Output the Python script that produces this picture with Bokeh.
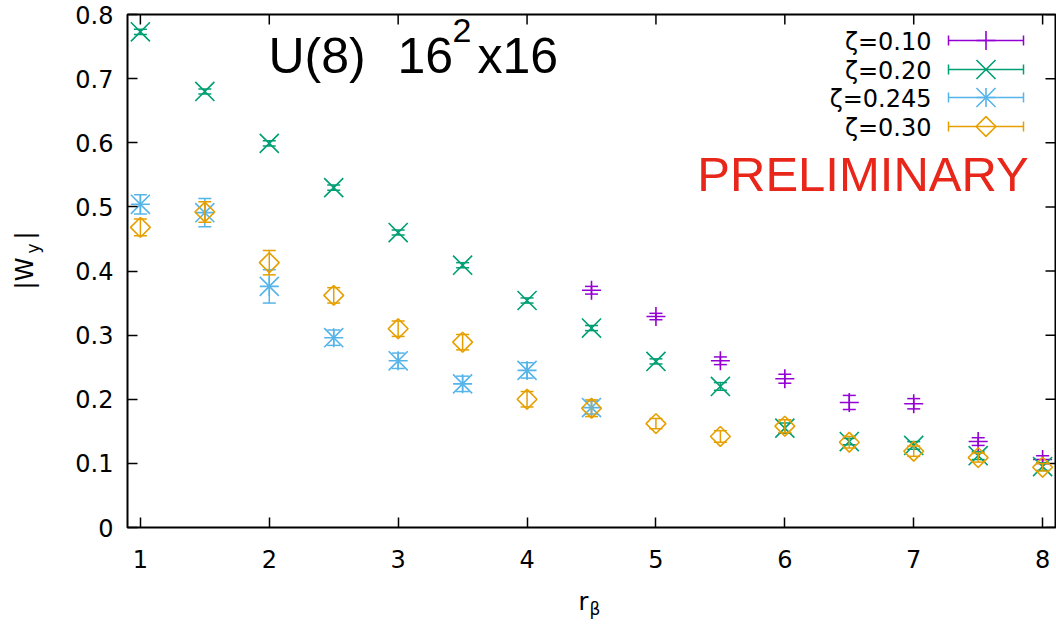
import math
from bokeh.plotting import figure
from bokeh.layouts import row, column
from bokeh.models import Range1d, FixedTicker, Label, ColumnDataSource
from bokeh.embed import file_html
from bokeh.resources import INLINE

# ---------------- data ----------------
r_010 = [4.5, 5.0, 5.5, 6.0, 6.5, 7.0, 7.5, 8.0]
w_010 = [0.370, 0.329, 0.260, 0.232, 0.195, 0.193, 0.134, 0.106]
e_010 = [0.006, 0.005, 0.006, 0.007, 0.011, 0.008, 0.006, 0.006]

r_020 = [1.0, 1.5, 2.0, 2.5, 3.0, 3.5, 4.0, 4.5, 5.0, 5.5, 6.0, 6.5, 7.0, 7.5, 8.0]
w_020 = [0.773, 0.680, 0.599, 0.530, 0.460, 0.409, 0.354, 0.311, 0.259, 0.220,
         0.155, 0.134, 0.128, 0.112, 0.095]
e_020 = [0.004, 0.004, 0.004, 0.004, 0.004, 0.004, 0.004, 0.004, 0.004, 0.006,
         0.008, 0.005, 0.006, 0.006, 0.006]

r_0245 = [1.0, 1.5, 2.0, 2.5, 3.0, 3.5, 4.0, 4.5]
w_0245 = [0.504, 0.491, 0.376, 0.296, 0.260, 0.224, 0.245, 0.187]
e_0245 = [0.015, 0.022, 0.026, 0.012, 0.012, 0.012, 0.012, 0.010]

r_030 = [1.0, 1.5, 2.0, 2.5, 3.0, 3.5, 4.0, 4.5, 5.0, 5.5, 6.0, 6.5, 7.0, 7.5, 8.0]
w_030 = [0.468, 0.492, 0.413, 0.362, 0.310, 0.289, 0.200, 0.186, 0.162, 0.142,
         0.158, 0.133, 0.119, 0.109, 0.094]
e_030 = [0.013, 0.016, 0.019, 0.012, 0.012, 0.012, 0.012, 0.013, 0.008, 0.009,
         0.010, 0.009, 0.008, 0.007, 0.006]

legend_labels = ["ζ=0.10", "ζ=0.20", "ζ=0.245", "ζ=0.30"]
x_ticks = [1, 2, 3, 4, 5, 6, 7, 8]
y_ticks = [0, 0.1, 0.2, 0.3, 0.4, 0.5, 0.6, 0.7, 0.8]
X_MIN, X_MAX = 0.9, 8.1
Y_MIN, Y_MAX = 0.0, 0.8

# ---------------- style / layout constants ----------------
TICK_FONT = "DejaVu Sans"
TICK_SIZE = "24px"
TITLE_FONT = "Liberation Sans"
colors = ["#9400d3", "#009e73", "#56b4e9", "#e69f00"]
CS = 19          # "+" size (box = size)
XS = 27          # "x" size (box = size / sqrt 2)
DS = 14          # rotated square (diamond) size
FRAME_W, FRAME_H = 928, 513
LEG_X0, LEG_X1 = 821, 896            # legend sample bar, px from frame left
LEG_XC = (LEG_X0 + LEG_X1) / 2
LEG_TEXT_X = 804
LEG_ROWS = [487, 458, 430, 401]      # legend rows, px above frame bottom

p = figure(width=1006, height=580, x_range=Range1d(X_MIN, X_MAX), y_range=Range1d(Y_MIN, Y_MAX),
           output_backend="svg", toolbar_location=None,
           min_border_left=77, min_border_right=1, min_border_top=14, min_border_bottom=53)
p.extra_x_ranges = {"px": Range1d(0, FRAME_W)}
p.extra_y_ranges = {"px": Range1d(0, FRAME_H)}
p.grid.visible = False
p.background_fill_color = "white"
p.border_fill_color = "white"
p.outline_line_color = "black"
p.outline_line_width = 2
p.outline_line_alpha = 1

for ax in (p.xaxis[0], p.yaxis[0]):
    ax.axis_line_color = None
    ax.major_tick_in = 10
    ax.major_tick_out = 0
    ax.major_tick_line_width = 1.5
    ax.major_tick_line_color = "black"
    ax.minor_tick_line_color = None
    ax.major_label_text_font = TICK_FONT
    ax.major_label_text_font_size = TICK_SIZE
    ax.major_label_text_color = "black"
p.xaxis[0].ticker = FixedTicker(ticks=x_ticks)
p.yaxis[0].ticker = FixedTicker(ticks=y_ticks)
p.xaxis[0].major_label_standoff = 22
p.yaxis[0].major_label_standoff = 14
p.yaxis[0].major_label_overrides = {0: "0"}

# mirrored ticks on top and right edges (half of each dash is clipped by the frame)
p.scatter(x=x_ticks, y=[Y_MAX] * len(x_ticks), marker="dash", angle=math.pi / 2, size=20,
          line_color="black", line_width=1.5)
p.scatter(x=[X_MAX] * len(y_ticks), y=y_ticks, marker="dash", size=20,
          line_color="black", line_width=1.5)


def draw_markers(src, color, markers, **kw):
    for m, s, a in markers:
        p.scatter(x="x", y="y", source=src, marker=m, size=s, angle=a,
                  line_color=color, fill_color=None, line_width=1.6, **kw)


def draw_series(x, y, e, color, markers):
    src = ColumnDataSource(dict(x=x, y=y,
                                lo=[a - b for a, b in zip(y, e)],
                                hi=[a + b for a, b in zip(y, e)]))
    p.segment(x0="x", y0="lo", x1="x", y1="hi", source=src, line_color=color, line_width=1.5)
    for col in ("lo", "hi"):
        p.scatter(x="x", y=col, source=src, marker="dash", size=13,
                  line_color=color, line_width=1.5)
    draw_markers(src, color, markers)


def draw_key(rc, color, markers, label):
    kw = dict(x_range_name="px", y_range_name="px")
    p.segment(x0=[LEG_X0], y0=[rc], x1=[LEG_X1], y1=[rc], line_color=color, line_width=1.5, **kw)
    p.scatter(x=[LEG_X0, LEG_X1], y=[rc, rc], marker="dash", angle=math.pi / 2, size=10,
              line_color=color, line_width=1.5, **kw)
    draw_markers(ColumnDataSource(dict(x=[LEG_XC], y=[rc])), color, markers, **kw)
    p.add_layout(Label(x=LEG_TEXT_X, y=rc - 1.5, x_units="screen", y_units="screen", text=label,
                       text_font=TICK_FONT, text_font_size=TICK_SIZE, text_align="right",
                       text_baseline="alphabetic", text_color="black"))


sets = [
    (r_010, w_010, e_010, [("cross", CS, 0)]),
    (r_020, w_020, e_020, [("x", XS, 0)]),
    (r_0245, w_0245, e_0245, [("cross", CS, 0), ("x", XS, 0)]),
    (r_030, w_030, e_030, [("square", DS, math.pi / 4)]),
]
for (x, y, e, mk), col, lab, rc in zip(sets, colors, legend_labels, LEG_ROWS):
    draw_series(x, y, e, col, mk)
    draw_key(rc, col, mk, lab)

# title pieces
for txt, xx, yy, fs in (("U(8)", 141, 472, "50px"), ("16", 270, 472, "50px"),
                        ("2", 325, 497, "34px"), ("x16", 350, 472, "50px")):
    p.add_layout(Label(x=xx, y=yy, x_units="screen", y_units="screen", text=txt,
                       text_font=TITLE_FONT, text_font_size=fs, text_align="left",
                       text_baseline="alphabetic", text_color="black"))

p.add_layout(Label(x=735.5, y=354, x_units="screen", y_units="screen", text="PRELIMINARY",
                   text_font=TITLE_FONT, text_font_size="49px", text_align="center",
                   text_baseline="alphabetic", text_color="#e8261a"))


def label_fig(w, h):
    f = figure(width=w, height=h, x_range=Range1d(0, w), y_range=Range1d(0, h),
               output_backend="svg", toolbar_location=None, min_border=0,
               x_axis_location=None, y_axis_location=None)
    f.grid.visible = False
    f.outline_line_color = None
    f.background_fill_color = "white"
    f.border_fill_color = "white"
    return f


# y-axis label |W_y|  (pieces centred on their own boxes)
ylab = label_fig(50, 580)
for txt, xx, yy, fs in (("|W", 24, 254, "24px"), ("y", 32, 279, "17px"), ("|", 24, 292, "24px")):
    ylab.add_layout(Label(x=xx, y=yy, x_units="screen", y_units="screen", text=txt,
                          angle=math.pi / 2, text_font=TICK_FONT, text_font_size=fs,
                          text_align="center", text_baseline="middle", text_color="black"))

# x-axis label r_beta
xlab = label_fig(1056, 46)
for txt, xx, yy, fs in (("r", 578, 25, "24px"), ("β", 589, 18, "17px")):
    xlab.add_layout(Label(x=xx, y=yy, x_units="screen", y_units="screen", text=txt,
                          text_font=TICK_FONT, text_font_size=fs, text_align="left",
                          text_baseline="alphabetic", text_color="black"))

layout = column(row(ylab, p, spacing=0), xlab, spacing=0)
open("out.html", "w").write(file_html(layout, INLINE))
